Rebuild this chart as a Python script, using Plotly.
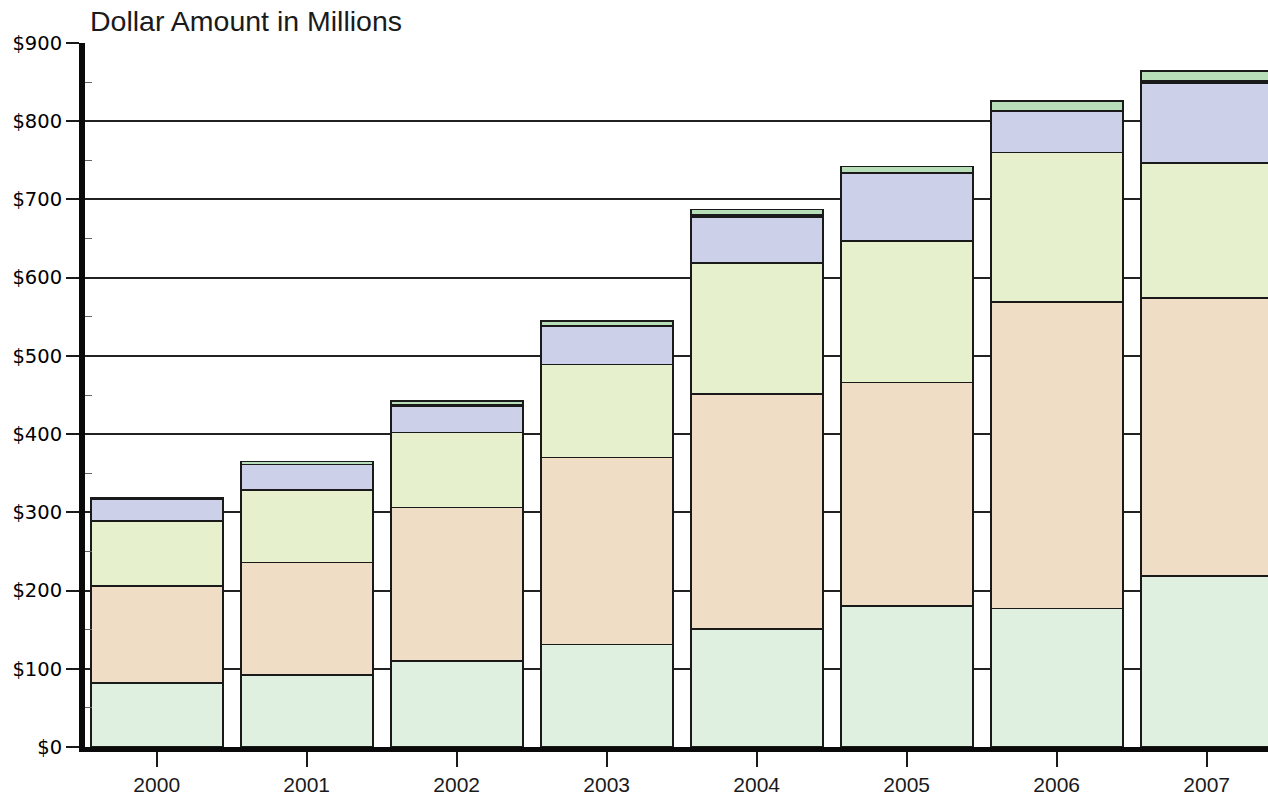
import plotly.graph_objects as go

years = ["2000", "2001", "2002", "2003", "2004", "2005", "2006", "2007"]
s1 = [82, 92, 110, 131, 151, 180, 177, 219]
s2 = [124, 144, 196, 239, 300, 286, 392, 355]
s3 = [83, 93, 96, 119, 168, 181, 191, 173]
s4 = [28, 32, 34, 49, 59, 87, 53, 102]
s5 = [2, 0, 2, 0, 2, 0, 0, 2]
s6 = [0, 4, 4, 7, 7, 8, 13, 13]

y_tickvals = [0, 100, 200, 300, 400, 500, 600, 700, 800, 900]
y_ticktext = ["$0", "$100", "$200", "$300", "$400", "$500", "$600", "$700", "$800", "$900"]
y_minor = [50, 150, 250, 350, 450, 550, 650, 750, 850]

series = [
    ("S1", s1, "#DFEFE0"),
    ("S2", s2, "#F0DDC5"),
    ("S3", s3, "#E6F0CD"),
    ("S4", s4, "#CCD0E8"),
    ("S5", s5, "#111111"),
    ("S6", s6, "#B7DDB9"),
]

fig = go.Figure()
for name, vals, col in series:
    fig.add_trace(go.Bar(
        x=years, y=vals, name=name,
        marker=dict(color=col, line=dict(color="#1a1a1a", width=1.7)),
        hoverinfo="x+y",
    ))

W, H = 1268, 798

fig.update_layout(
    barmode="stack",
    bargap=0.12,
    width=W, height=H,
    margin=dict(l=85, r=0, t=43, b=51),
    plot_bgcolor="white", paper_bgcolor="white",
    showlegend=False,
    font=dict(family="Liberation Sans, Arial, sans-serif", color="#1a1a1a"),
    title=dict(text="Dollar Amount in Millions", x=90 / W, xanchor="left",
               y=1 - 21 / H, yanchor="middle",
               font=dict(size=28.5, color="#1a1a1a")),
)

fig.update_xaxes(
    type="category",
    range=[-0.478, 7.409],
    showline=True, linewidth=5, linecolor="#0a0a0a",
    ticks="outside", ticklen=15, tickwidth=2, tickcolor="#1a1a1a",
    tickfont=dict(size=21, color="#1a1a1a"),
    showgrid=False, zeroline=False,
)

fig.update_yaxes(
    range=[0, 900],
    tickvals=y_tickvals, ticktext=y_ticktext,
    showline=True, linewidth=6, linecolor="#0a0a0a",
    ticks="outside", ticklen=13, tickwidth=2, tickcolor="#1a1a1a",
    tickfont=dict(size=19.5, color="#000000", family="DejaVu Sans, sans-serif"),
    showgrid=True, gridcolor="#222222", gridwidth=1.7,
    zeroline=False,
    minor=dict(tickvals=y_minor,
               ticks="inside", ticklen=7, tickwidth=1, tickcolor="#666666",
               showgrid=False),
)

fig.write_html(
    "out.html",
    config={"displayModeBar": False},
    post_script="document.body.style.margin='0';document.body.style.overflow='hidden';",
)
